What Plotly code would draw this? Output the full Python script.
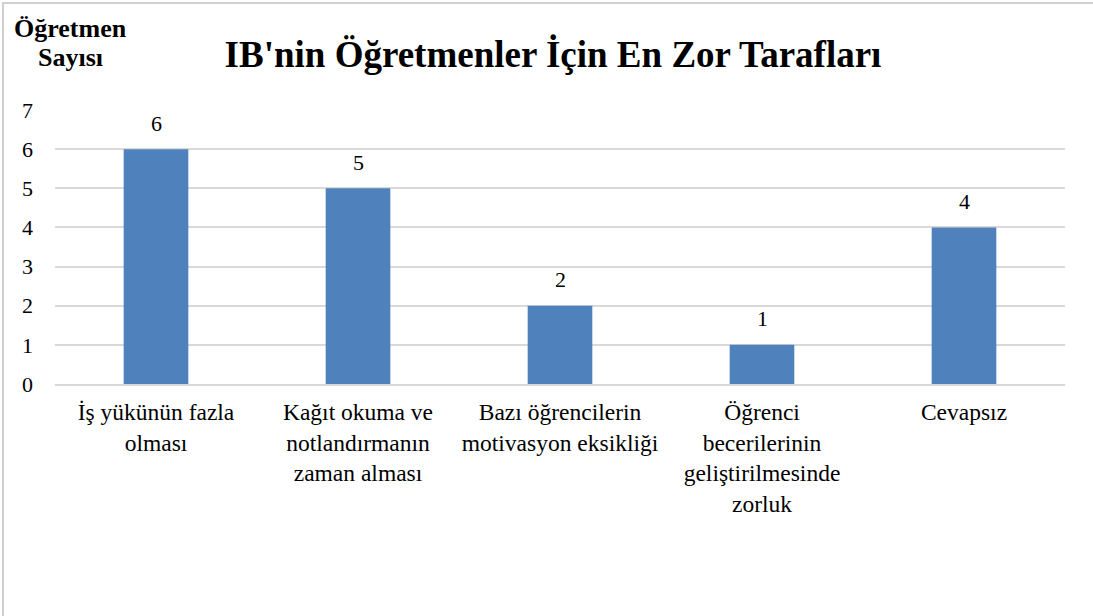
import plotly.graph_objects as go

categories = ["İş yükünün fazla<br>olması",
              "Kağıt okuma ve<br>notlandırmanın<br>zaman alması",
              "Bazı öğrencilerin<br>motivasyon eksikliği",
              "Öğrenci<br>becerilerinin<br>geliştirilmesinde<br>zorluk",
              "Cevapsız"]
values = [6, 5, 2, 1, 4]
y_ticks = [0, 1, 2, 3, 4, 5, 6, 7]
y_title_lines = ["Öğretmen", "Sayısı"]

FONT = "Liberation Serif"
W, H = 1093, 616
L, R, T, B = 55, 28, 110, 232
PW, PH = W - L - R, H - T - B

fig = go.Figure(go.Bar(x=categories, y=values, marker_color="#4F81BD",
                       marker_line_width=0, hoverinfo="skip"))

for c, v in zip(categories, values):
    fig.add_annotation(x=c, y=v, text=str(v), showarrow=False, yshift=26,
                       font=dict(family=FONT, size=22, color="#000000"))

fig.update_layout(
    width=W, height=H,
    margin=dict(l=L, r=R, t=T, b=B),
    paper_bgcolor="white", plot_bgcolor="white",
    bargap=0.68,
    showlegend=False,
    font=dict(family=FONT, color="#000000"),
    title=dict(text="<b>IB'nin Öğretmenler İçin En Zor Tarafları</b>",
               x=553 / W, xanchor="center", y=1 - 54 / H, yanchor="middle",
               font=dict(family=FONT, size=37, color="#000000")),
)
fig.update_yaxes(range=[0, 7], tickvals=y_ticks, showgrid=True,
                 gridcolor="#D9D9D9", gridwidth=1.5, zeroline=False,
                 showline=False, ticklabelstandoff=21,
                 tickfont=dict(family=FONT, size=22, color="#000000"))
fig.update_xaxes(showline=True, linecolor="#D9D9D9", linewidth=1.5,
                 ticks="", ticklabelstandoff=6,
                 tickfont=dict(family=FONT, size=23.5, color="#000000"))

for line, ypix in zip(y_title_lines, [28, 57]):
    fig.add_annotation(xref="paper", yref="paper", x=-(L - 70) / PW,
                       y=1 + (T - ypix) / PH, text="<b>" + line + "</b>",
                       showarrow=False, xanchor="center", yanchor="middle",
                       font=dict(family=FONT, size=26, color="#000000"))

# outer chart border (top and left visible)
fig.add_shape(type="rect", xref="paper", yref="paper",
              x0=-(L - 3) / PW, x1=1 + (R + 10) / PW,
              y0=-(B + 10) / PH, y1=1 + (T - 3) / PH,
              line=dict(color="#D0D0D0", width=2), layer="below")

fig.write_html("out.html", config={"displayModeBar": False},
               post_script="document.body.style.margin='0';document.body.style.overflow='hidden';")
